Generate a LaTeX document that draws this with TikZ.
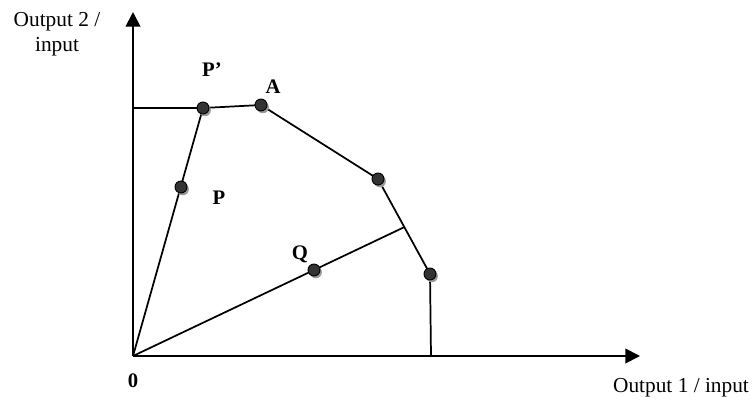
\documentclass[tikz,border=0pt]{standalone}
\usepackage{fontspec}
\setmainfont{Liberation Serif}
\usetikzlibrary{arrows.meta, shadows}

\begin{document}
\begin{tikzpicture}[
    x=0.75pt, y=-0.75pt,
    font=\fontsize{16}{19}\selectfont,
    axis/.style={line width=1.4pt, -{Triangle[length=11pt, width=11pt]}},
    edge/.style={line width=1.3pt},
    dot/.style={circle, draw=black, fill=black!80, line width=0.7pt, minimum size=9pt, inner sep=0pt,
        drop shadow={shadow xshift=1.4pt, shadow yshift=-1.7pt, fill=black!40, opacity=1}},
    lbl/.style={font=\fontsize{15.5}{18}\selectfont\bfseries}
]
\useasboundingbox (0,0) rectangle (753,403);

% Axes
\coordinate (origin) at (133,356);
\coordinate (ytip) at (133,12);
\coordinate (xtip) at (640,356);
\draw[axis] (origin) -- (ytip);
\draw[axis] (origin) -- (xtip);

% Frontier points
\coordinate (yleft) at (133,108);
\coordinate (pprime) at (203,108);
\coordinate (ptA) at (261,105);
\coordinate (ptB) at (378,179);
\coordinate (ptC) at (430,274);
\coordinate (xfoot) at (431,356);
\coordinate (ptP) at (181,187);
\coordinate (ptQ) at (314,270);
\coordinate (hit) at (intersection of origin--ptQ and ptB--ptC);

% Frontier and rays
\draw[edge] (yleft) -- (pprime) -- (ptA) -- (ptB) -- (ptC) -- (xfoot);
\draw[edge] (origin) -- (pprime);
\draw[edge] (origin) -- (hit);

% Dots
\foreach \pt in {pprime, ptA, ptB, ptC, ptP, ptQ}
    \node[dot] at (\pt) {};

% Labels
\node[lbl] (lblpp) at (212,70) {P’};
\node[lbl] (lblA) at (273,87) {A};
\node[lbl] (lblP) at (219,198) {P};
\node[lbl] (lblQ) at (300,254) {Q};
\node[lbl] (lblzero) at (133,381) {0};
\node[align=center, inner sep=0pt] (ylabel) at (57,34) {Output 2 /\\input};
\node (xlabel) at (681,388) {Output 1 / input};

\end{tikzpicture}
\end{document}
